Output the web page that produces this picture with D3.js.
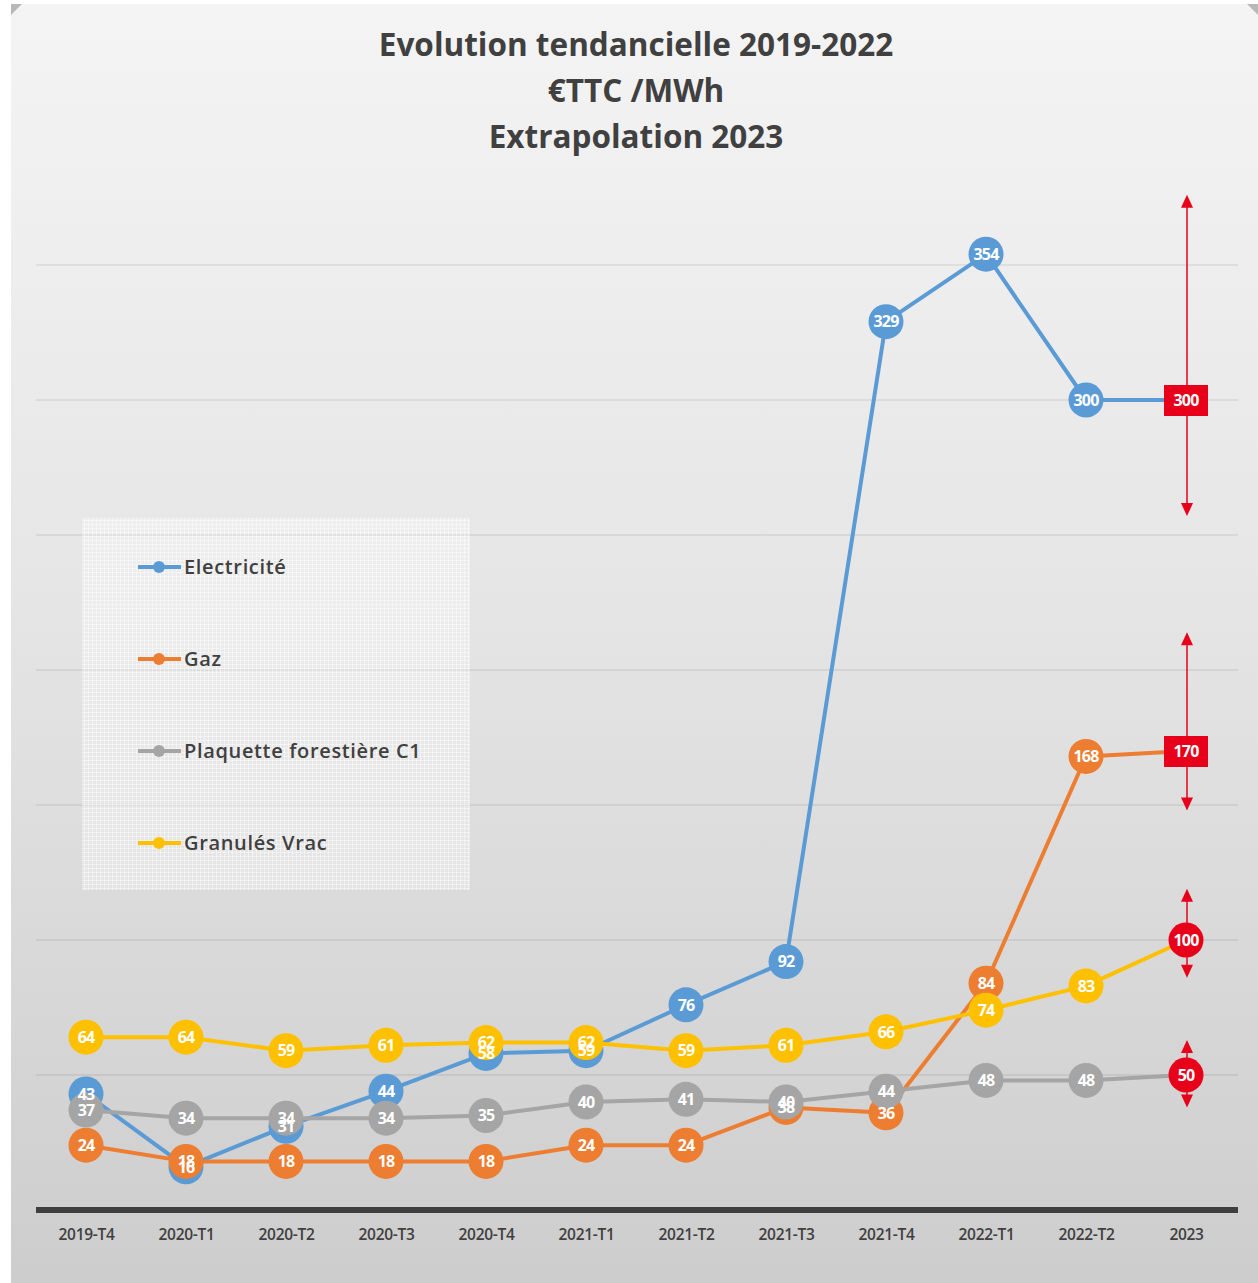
<!DOCTYPE html>
<html>
<head>
<meta charset="utf-8">
<script src="https://cdn.jsdelivr.net/npm/d3@7"></script>
<style>
  body { margin: 0; background: #fff; }
  svg { display: block; }
</style>
</head>
<body>
<svg id="chart" width="1258" height="1283"></svg>
<script>
// categories (x axis)
var categories = ["2019-T4", "2020-T1", "2020-T2", "2020-T3", "2020-T4", "2021-T1",
                  "2021-T2", "2021-T3", "2021-T4", "2022-T1", "2022-T2", "2023"];

// series values, €TTC / MWh
var electricite = [43, 16, 31, 44, 58, 59, 76, 92, 329, 354, 300, 300];
var gaz         = [24, 18, 18, 18, 18, 24, 24, 38, 36, 84, 168, 170];
var plaquette   = [37, 34, 34, 34, 35, 40, 41, 40, 44, 48, 48, 50];
var granules    = [64, 64, 59, 61, 62, 62, 59, 61, 66, 74, 83, 100];

// 2023 extrapolation range (arrow tips)
var rangeHigh = [376, 214, 119, 63];
var rangeLow  = [257, 148, 86, 38];

var seriesNames = ["Electricité", "Gaz", "Plaquette forestière C1", "Granulés Vrac"];
var gridValues = [50, 100, 150, 200, 250, 300, 350];

var titleLines = ["Evolution tendancielle 2019-2022", "€TTC /MWh", "Extrapolation 2023"];

var colors = ["#5b9bd5", "#ed7d31", "#a5a5a5", "#ffc000"];
var red = "#e8001a";
var lastShape = ["square", "square", "circle", "circle"];

var series = [electricite, gaz, plaquette, granules].map(function(vals, i) {
    return {
        name: seriesNames[i],
        color: colors[i],
        shape: lastShape[i],
        hi: rangeHigh[i],
        lo: rangeLow[i],
        values: vals.map(function(v, j) { return { cat: categories[j], value: v }; })
    };
});

var svg = d3.select("#chart");

var defs = svg.append("defs");
var grad = defs.append("linearGradient")
    .attr("id", "bg")
    .attr("x1", 0).attr("y1", 0).attr("x2", 0).attr("y2", 1);
grad.append("stop").attr("offset", "0%").attr("stop-color", "#f4f4f4");
grad.append("stop").attr("offset", "45%").attr("stop-color", "#e6e6e6");
grad.append("stop").attr("offset", "100%").attr("stop-color", "#cdcdcd");

// legend grid texture
var pat = defs.append("pattern")
    .attr("id", "legendGrid")
    .attr("width", 4).attr("height", 4)
    .attr("patternUnits", "userSpaceOnUse");
pat.append("rect").attr("width", 4).attr("height", 4).attr("fill", "rgba(255,255,255,0.25)");
pat.append("path").attr("d", "M0,0.5H4M0.5,0V4")
    .attr("stroke", "rgba(255,255,255,0.45)").attr("stroke-width", 1);

// chart background
svg.append("rect")
    .attr("x", 11).attr("y", 4)
    .attr("width", 1247).attr("height", 1279)
    .attr("fill", "url(#bg)");
svg.append("path").attr("d", "M11,4H22L11,15Z").attr("fill", "#b8b8b8");
svg.append("path").attr("d", "M1258,4H1247L1258,15Z").attr("fill", "#b8b8b8");

// scales
var x = d3.scalePoint()
    .domain(categories)
    .range([36, 1236])
    .padding(0.5);

var y = d3.scaleLinear()
    .domain([0, 400])
    .range([1210, 130]);

// gridlines
svg.append("g")
    .selectAll("line")
    .data(gridValues)
    .enter().append("line")
    .attr("x1", 36).attr("x2", 1238)
    .attr("y1", function(d) { return y(d); })
    .attr("y2", function(d) { return y(d); })
    .attr("stroke", "#000")
    .attr("stroke-opacity", 0.13)
    .attr("stroke-width", 1.2);

// title
svg.append("g")
    .selectAll("text")
    .data(titleLines)
    .enter().append("text")
    .attr("x", 636)
    .attr("y", function(d, i) { return 56 + i * 46; })
    .attr("text-anchor", "middle")
    .attr("font-family", "'Open Sans', sans-serif")
    .attr("font-weight", "bold")
    .attr("font-size", 31.5)
    .attr("fill", "#404040")
    .text(function(d) { return d; });

// legend
var legend = svg.append("g");
legend.append("rect")
    .attr("x", 82).attr("y", 518)
    .attr("width", 388).attr("height", 372)
    .attr("fill", "url(#legendGrid)");

var legendItem = legend.selectAll("g.item")
    .data(series)
    .enter().append("g")
    .attr("class", "item")
    .attr("transform", function(d, i) { return "translate(0," + (567 + i * 92) + ")"; });
legendItem.append("line")
    .attr("x1", 138).attr("x2", 181)
    .attr("stroke", function(d) { return d.color; })
    .attr("stroke-width", 4);
legendItem.append("circle")
    .attr("cx", 159).attr("r", 6)
    .attr("fill", function(d) { return d.color; });
legendItem.append("text")
    .attr("x", 184)
    .attr("dy", "0.35em")
    .attr("font-family", "'Open Sans', sans-serif")
    .attr("font-weight", 600)
    .attr("font-size", 20)
    .attr("letter-spacing", 0.65)
    .attr("fill", "#404040")
    .text(function(d) { return d.name; });

// x axis
var xAxis = svg.append("g")
    .attr("transform", "translate(0," + y(0) + ")")
    .call(d3.axisBottom(x).tickSize(0).tickPadding(19));
xAxis.select(".domain").remove();
xAxis.selectAll("text")
    .attr("font-family", "'Open Sans', sans-serif")
    .attr("font-weight", 600)
    .attr("font-size", 15.5)
    .attr("letter-spacing", -0.3)
    .attr("fill", "#404040");
svg.append("line")
    .attr("x1", 36).attr("x2", 1238)
    .attr("y1", y(0)).attr("y2", y(0))
    .attr("stroke", "#3f3f3f")
    .attr("stroke-width", 6);

// lines and markers
var line = d3.line()
    .x(function(d) { return x(d.cat); })
    .y(function(d) { return y(d.value); });

var last = categories[categories.length - 1];

series.forEach(function(s) {
    var g = svg.append("g");
    g.append("path")
        .datum(s.values)
        .attr("d", line)
        .attr("fill", "none")
        .attr("stroke", s.color)
        .attr("stroke-width", 4)
        .attr("stroke-linejoin", "round");

    g.selectAll("circle.pt")
        .data(s.values.slice(0, -1))
        .enter().append("circle")
        .attr("class", "pt")
        .attr("cx", function(d) { return x(d.cat); })
        .attr("cy", function(d) { return y(d.value); })
        .attr("r", 17.5)
        .attr("fill", s.color);

    // extrapolation arrows
    var cx = x(last);
    g.append("line")
        .attr("x1", cx + 1).attr("x2", cx + 1)
        .attr("y1", y(s.hi) + 10).attr("y2", y(s.lo) - 10)
        .attr("stroke", red)
        .attr("stroke-width", 1.5);
    g.append("path")
        .attr("d", "M" + (cx + 1) + "," + y(s.hi) + "l6,13h-12Z")
        .attr("fill", red);
    g.append("path")
        .attr("d", "M" + (cx + 1) + "," + y(s.lo) + "l6,-13h-12Z")
        .attr("fill", red);

    var lv = s.values[s.values.length - 1];
    if (s.shape === "square") {
        g.append("rect")
            .attr("x", x(lv.cat) - 22).attr("y", y(lv.value) - 15)
            .attr("width", 44).attr("height", 31)
            .attr("fill", red);
    } else {
        g.append("circle")
            .attr("cx", x(lv.cat)).attr("cy", y(lv.value))
            .attr("r", 17.5)
            .attr("fill", red);
    }
});

// data labels on top
series.forEach(function(s) {
    svg.append("g")
        .selectAll("text")
        .data(s.values)
        .enter().append("text")
        .attr("x", function(d) { return x(d.cat); })
        .attr("y", function(d) { return y(d.value); })
        .attr("dy", "0.36em")
        .attr("text-anchor", "middle")
        .attr("font-family", "'Open Sans', sans-serif")
        .attr("font-weight", "bold")
        .attr("font-size", 16)
        .attr("letter-spacing", -0.8)
        .attr("fill", "#fff")
        .text(function(d) { return d.value; });
});
</script>
</body>
</html>
